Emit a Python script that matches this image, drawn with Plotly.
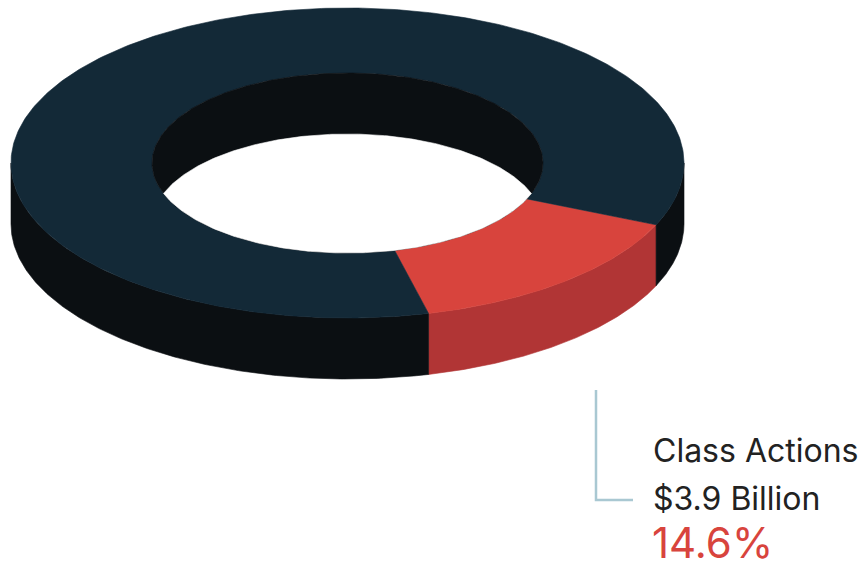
import numpy as np
import plotly.graph_objects as go

# Share of total litigation value (percent) for each ring segment
segments = ["All Other Litigation", "Class Actions"]
shares = [85.4, 14.6]
amount_label = "$3.9 Billion"
highlight = "Class Actions"

# Colours: top face, side wall
top_colors = {"All Other Litigation": "#132937", "Class Actions": "#d8443d"}
side_colors = {"All Other Litigation": "#0b0f12", "Class Actions": "#b13535"}
wall_color = "#0b0f12"

# Ring geometry (drawing units = screen pixels)
W, H = 858, 563
CX, CY = 347.5, 163.0
RX_OUT, RY_OUT = 336.5, 155.0
RX_IN, RY_IN = 195.5, 90.0
DEPTH = 61.0
START_DEG = 23.5  # angle (clockwise from 3 o'clock) where the highlighted slice begins


def arc(rx, ry, t1, t2, dy=0.0, n=200):
    t = np.radians(np.linspace(t1, t2, n))
    return CX + rx * np.cos(t), CY + dy + ry * np.sin(t)


def front_parts(t1, t2):
    """Parts of [t1, t2] that face the viewer (0..180 deg, repeated each turn)."""
    parts = []
    for base in (0, 360, -360):
        a, b = max(t1, base), min(t2, base + 180)
        if b > a:
            parts.append((a, b))
    return parts


# Slice angle ranges from the shares, highlighted slice placed at START_DEG
order = [highlight] + [s for s in segments if s != highlight]
share_map = dict(zip(segments, shares))
ranges = {}
t = START_DEG
for s in order:
    span = share_map[s] * 3.6
    ranges[s] = (t, t + span)
    t += span

fig = go.Figure()


def poly(x, y, color):
    fig.add_trace(go.Scatter(
        x=list(x) + [x[0]], y=list(y) + [y[0]], mode="lines",
        fill="toself", fillcolor=color,
        line=dict(width=0.6, color=color), hoverinfo="skip", showlegend=False,
    ))


# Outer side walls
for s in order:
    t1, t2 = ranges[s]
    for a, b in front_parts(t1, t2):
        xt, yt = arc(RX_OUT, RY_OUT, a, b)
        xb, yb = arc(RX_OUT, RY_OUT, b, a, dy=DEPTH)
        poly(np.concatenate([xt, xb]), np.concatenate([yt, yb]), side_colors[s])

# Top faces
for s in order:
    t1, t2 = ranges[s]
    xo, yo = arc(RX_OUT, RY_OUT, t1, t2, n=400)
    xi, yi = arc(RX_IN, RY_IN, t2, t1, n=400)
    poly(np.concatenate([xo, xi]), np.concatenate([yo, yi]), top_colors[s])

# Hole: far inner wall, then the bottom opening
xh, yh = arc(RX_IN, RY_IN, 0, 360, n=400)
poly(xh, yh, wall_color)
t0 = np.degrees(np.arcsin(DEPTH / (2 * RY_IN)))
xa, ya = arc(RX_IN, RY_IN, t0, 180 - t0)
xb2, yb2 = arc(RX_IN, RY_IN, 180 + t0, 360 - t0, dy=DEPTH)
poly(np.concatenate([xa, xb2]), np.concatenate([ya, yb2]), "#ffffff")

# Leader line to the label
fig.add_shape(type="path", path="M 596 390 L 596 500 L 633 500",
              line=dict(color="#a9c8d2", width=2.5), xref="x", yref="y")

font = "Inter, Roboto, sans-serif"
pct = share_map[highlight]
fig.add_annotation(x=651, y=472, xref="x", yref="y", xanchor="left", yanchor="bottom",
                   text=highlight, showarrow=False,
                   font=dict(family=font, size=32, color="#222222"))
fig.add_annotation(x=651, y=520, xref="x", yref="y", xanchor="left", yanchor="bottom",
                   text=amount_label, showarrow=False,
                   font=dict(family=font, size=32, color="#222222"))
fig.add_annotation(x=650, y=550, yshift=-20, xref="x", yref="y",
                   xanchor="left", yanchor="bottom",
                   text=f"{pct:.1f}%", showarrow=False,
                   font=dict(family=font, size=42, color="#d8443d"))

fig.update_layout(
    width=W, height=H, margin=dict(l=0, r=0, t=0, b=0),
    paper_bgcolor="white", plot_bgcolor="white",
    xaxis=dict(range=[0, W], visible=False, fixedrange=True),
    yaxis=dict(range=[H, 0], visible=False, fixedrange=True),
)

fig.write_html("out.html", config={"displayModeBar": False})
